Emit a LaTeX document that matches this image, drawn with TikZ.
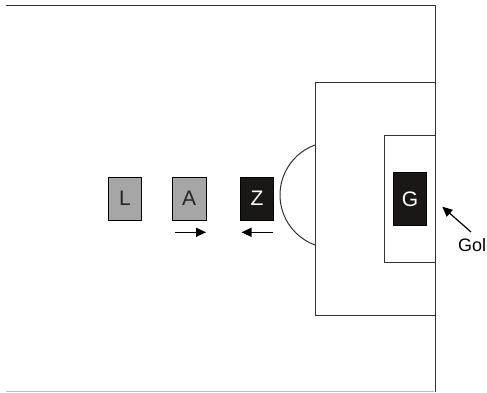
\documentclass[tikz,border=0pt]{standalone}
\usepackage{fontspec}
\setmainfont{Liberation Sans}
\usetikzlibrary{arrows.meta}
\definecolor{pgray}{HTML}{A6A6A6}
\definecolor{pblack}{HTML}{1C1717}
\definecolor{fline}{HTML}{333333}
\tikzset{
  player/.style={draw=black, line width=0.9pt, minimum width=33.5pt, minimum height=42.5pt, inner sep=0pt, font=\fontsize{21}{21}\selectfont},
  grayp/.style={player, fill=pgray, text=black!85},
  blackp/.style={player, fill=pblack, text=white},
  fieldline/.style={draw=fline, line width=1pt},
  move/.style={line width=1.3pt, -{Triangle[length=10pt,width=9pt]}},
}
\begin{document}
\begin{tikzpicture}[x=1pt,y=-1pt]
\useasboundingbox (0,0) rectangle (487,392);
% field
\draw[fieldline] (6,5.5) -- (435,5.5) -- (435,392);
\draw[draw=black!25, line width=1pt] (6,391) -- (434,391);
% penalty box
\draw[fieldline] (435,82.5) -- (315,82.5) -- (315,315.5) -- (435,315.5);
% goal area
\draw[fieldline] (435,135.7) -- (384.3,135.7) -- (384.3,262.3) -- (435,262.3);
% arc
\draw[fieldline] (315,145) arc[start angle=110, end angle=250, radius=53.2pt];
% players
\node[grayp] (L) at (125,198.7) {L};
\node[grayp] (A) at (189.2,198.7) {A};
\node[blackp] (Z) at (257,198.7) {Z};
\node[blackp, minimum height=53pt] (G) at (410,198.8) {G};
% movement arrows
\coordinate (a1) at (175,232.3);
\coordinate (a2) at (206,232.3);
\coordinate (z1) at (273,232.3);
\coordinate (z2) at (241.5,232.3);
\draw[move] (a1) -- (a2);
\draw[move] (z1) -- (z2);
% Gol label
\node[font=\fontsize{18}{18}\selectfont, inner sep=0pt] (gol) at (472,245) {Gol};
\coordinate (g1) at (471,232);
\coordinate (g2) at (442.3,206.7);
\draw[move, line width=1.2pt] (g1) -- (g2);
\end{tikzpicture}
\end{document}
